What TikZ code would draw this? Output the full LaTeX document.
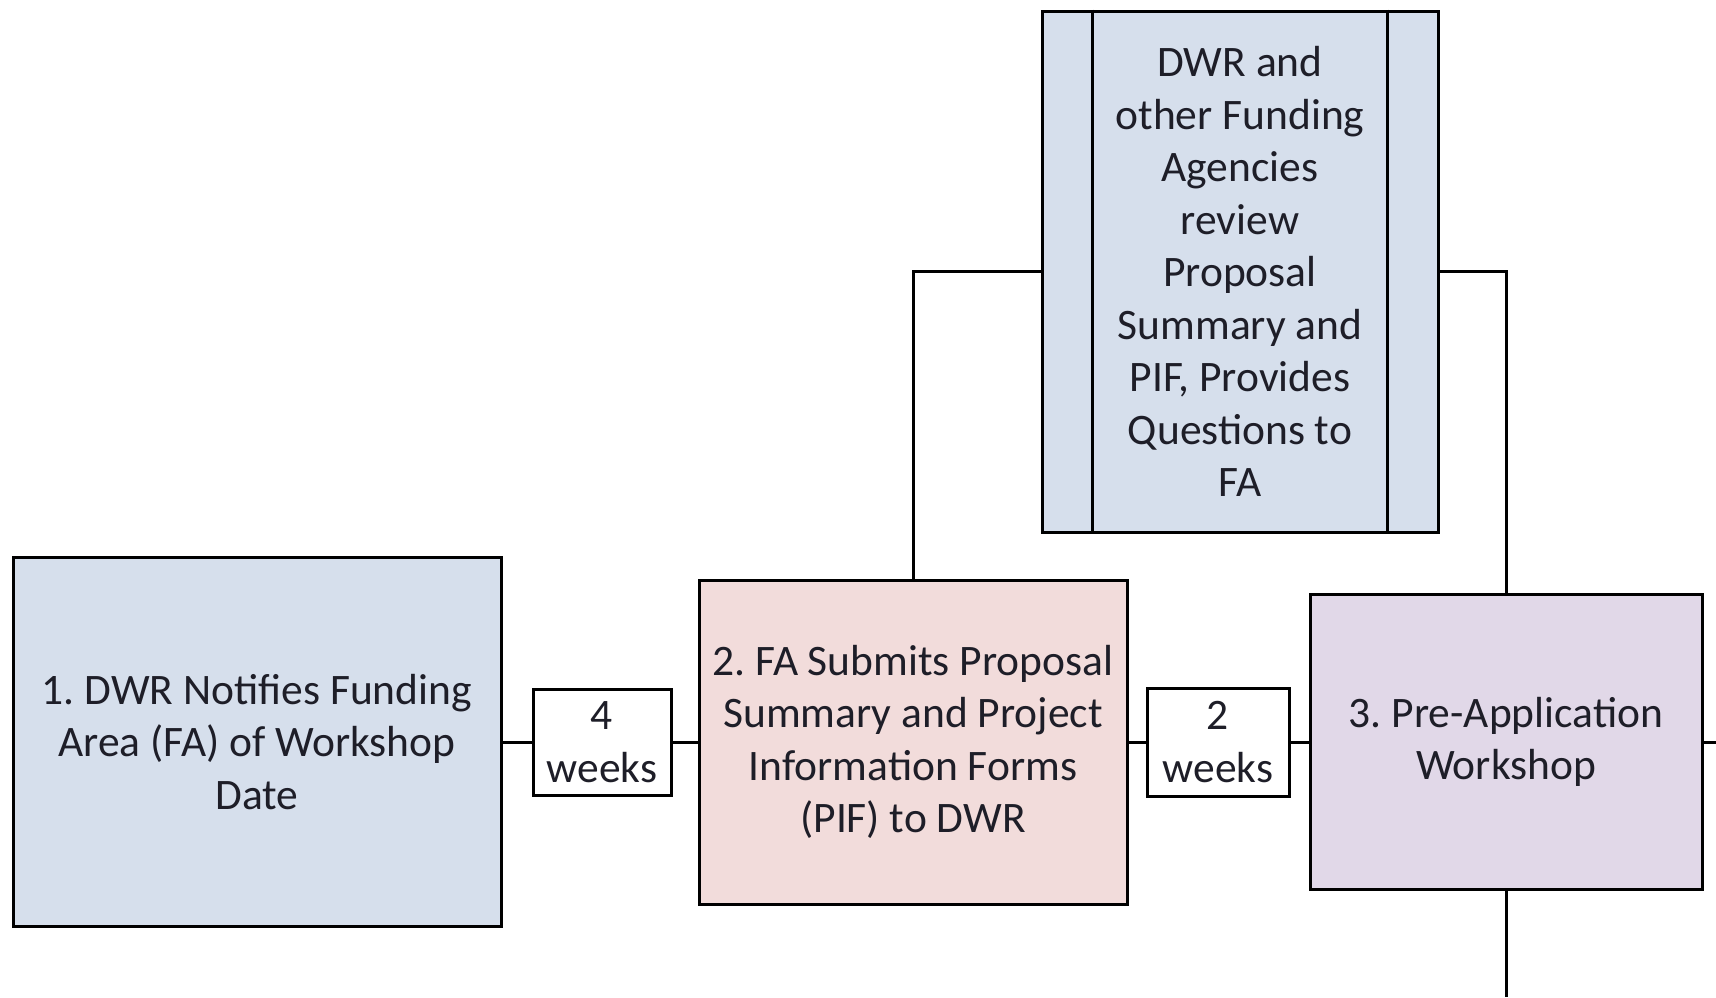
\documentclass[tikz,border=0pt]{standalone}
\usepackage{fontspec}
\setmainfont{Carlito}
\frenchspacing
\definecolor{bluefill}{HTML}{D6DFEC}
\definecolor{pinkfill}{HTML}{F2DCDB}
\definecolor{lavfill}{HTML}{E1D8E8}
\definecolor{ink}{HTML}{1E1E28}
\tikzset{
  box/.style={draw=black, line width=3pt, inner sep=2pt, align=center, text=ink,
    font=\fontsize{43.5}{52.5}\selectfont},
  weekbox/.style={draw=black, line width=3pt, fill=white, inner sep=1pt, align=center, text=ink,
    font=\fontsize{43.5}{52.5}\selectfont},
  conn/.style={line width=3pt, black}
}
\begin{document}
\begin{tikzpicture}[x=1pt,y=-1pt]
\useasboundingbox[fill=white] (0,0) rectangle (1716,997);
\node[box, fill=bluefill, minimum width=488, minimum height=369] (b1) at (257,742)
  {1. DWR Notifies Funding\\Area (FA) of Workshop\\Date};
\node[box, fill=pinkfill, minimum width=428, minimum height=324] (b2) at (913,742)
  {2. FA Submits Proposal\\Summary and Project\\Information Forms\\(PIF) to DWR};
\node[box, fill=lavfill, minimum width=392, minimum height=295] (b3) at (1506,742)
  {3. Pre-Application\\Workshop};
\node[box, fill=bluefill, minimum width=396, minimum height=521] (top) at (1240,271.5)
  {DWR and\\other Funding\\Agencies\\review\\Proposal\\Summary and\\PIF, Provides\\Questions to\\FA};
\draw[conn] ([xshift=52]top.north west) -- ([xshift=52]top.south west);
\draw[conn] ([xshift=-52]top.north east) -- ([xshift=-52]top.south east);
\node[weekbox, minimum width=138, minimum height=106] (w4) at (602,742) {4\\weeks};
\node[weekbox, minimum width=142, minimum height=108] (w2) at (1218,742) {2\\weeks};
\coordinate (endS) at (1506,997);
\coordinate (endE) at (1716,742);
\draw[conn] (b1.east) -- (w4.west);
\draw[conn] (w4.east) -- (b2.west);
\draw[conn] (b2.east) -- (w2.west);
\draw[conn] (w2.east) -- (b3.west);
\draw[conn] (b2.north) |- (top.west);
\draw[conn] (top.east) -| (b3.north);
\draw[conn] (b3.south) -- (endS);
\draw[conn] (b3.east) -- (endE);
\end{tikzpicture}
\end{document}
